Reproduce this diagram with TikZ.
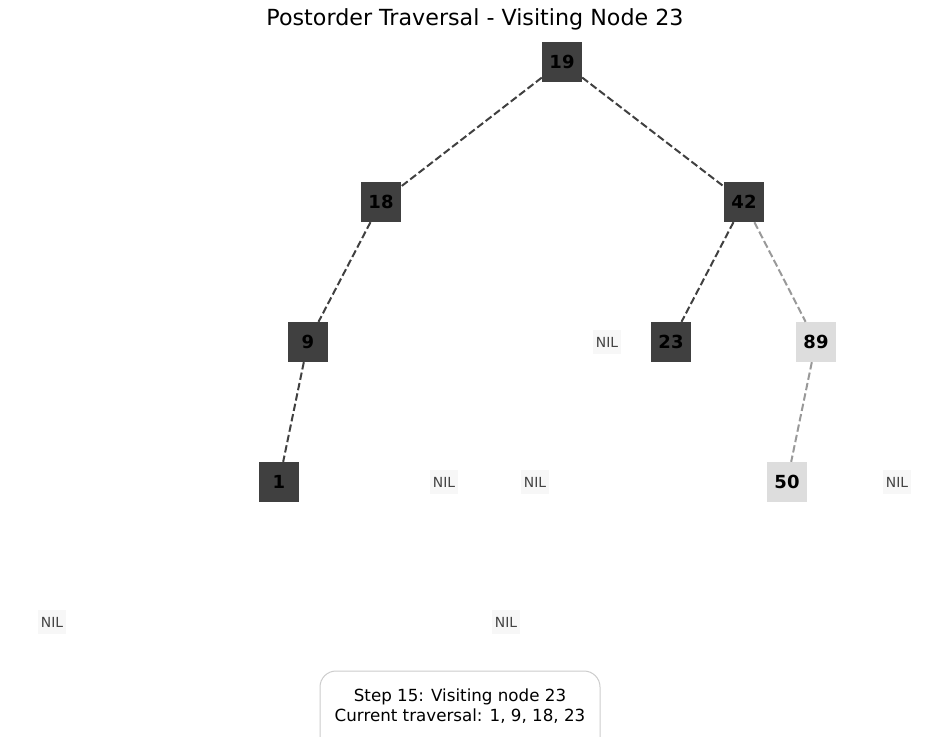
\documentclass[tikz,border=0pt]{standalone}
\usepackage{fontspec}
\setmainfont{DejaVu Sans}
\definecolor{dk}{HTML}{404040}
\definecolor{lt}{HTML}{DDDDDD}
\definecolor{nilbg}{HTML}{F7F7F7}
\definecolor{niltx}{HTML}{444444}
\definecolor{edk}{HTML}{404040}
\definecolor{elt}{HTML}{999999}
\definecolor{boxbd}{HTML}{CCCCCC}
\begin{document}
\begin{tikzpicture}[x=1pt,y=-1pt,
  visited/.style={rectangle,fill=dk,minimum width=40pt,minimum height=40pt,inner sep=0pt,font=\fontsize{18}{20}\selectfont\bfseries,text=black},
  pending/.style={rectangle,fill=lt,minimum width=40pt,minimum height=40pt,inner sep=0pt,font=\fontsize{18}{20}\selectfont\bfseries,text=black},
  nil/.style={rectangle,fill=nilbg,inner xsep=2.5pt,inner ysep=0pt,minimum height=24pt,font=\fontsize{13.9}{15}\selectfont,text=niltx},
  edark/.style={draw=edk,line width=2pt,dash pattern=on 7.4pt off 3.2pt},
  elight/.style={draw=elt,line width=2pt,dash pattern=on 7.4pt off 3.2pt}]
\useasboundingbox (0,0) rectangle (950,736);
\node[font=\fontsize{22.2}{24}\selectfont] (title) at (475,19) {Postorder Traversal - Visiting Node 23};
\node[visited] (n19) at (562,62) {19};
\node[visited] (n18) at (381,202) {18};
\node[visited] (n42) at (744,202) {42};
\node[visited] (n9) at (308,342) {9};
\node[visited] (n23) at (671,342) {23};
\node[pending] (n89) at (816,342) {89};
\node[visited] (n1) at (279,482) {1};
\node[pending] (n50) at (787,482) {50};
\node[nil] (nil1) at (607,342) {NIL};
\node[nil] (nil2) at (444,482) {NIL};
\node[nil] (nil3) at (535,482) {NIL};
\node[nil] (nil4) at (897,482) {NIL};
\node[nil] (nil5) at (52,622) {NIL};
\node[nil] (nil6) at (506,622) {NIL};
\draw[edark] (n19) -- (n18);
\draw[edark] (n19) -- (n42);
\draw[edark] (n18) -- (n9);
\draw[edark] (n42) -- (n23);
\draw[edark] (n9) -- (n1);
\draw[elight] (n42) -- (n89);
\draw[elight] (n89) -- (n50);
\begin{scope}
\clip (0,0) rectangle (950,736);
\draw[boxbd,line width=1pt,rounded corners=16pt,fill=white] (320,671) rectangle (600,760);
\end{scope}
\node[align=center,font=\fontsize{16.7}{20}\selectfont] (info) at (460,706) {Step 15: Visiting node 23\\Current traversal: 1, 9, 18, 23};
\end{tikzpicture}
\end{document}
